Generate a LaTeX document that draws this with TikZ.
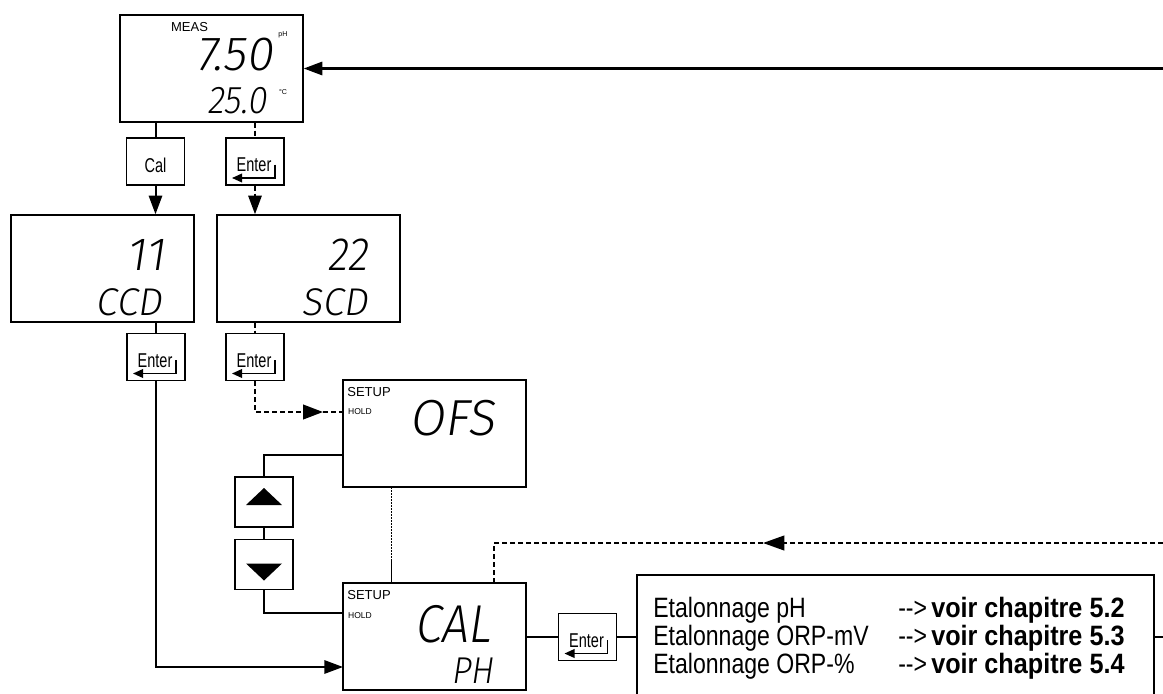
\documentclass[tikz,border=0pt]{standalone}
\usepackage{fontspec}
\setmainfont{Liberation Sans}
\newfontfamily\condfont[FakeStretch=0.725]{Liberation Sans}
\newfontfamily\listfont[FakeStretch=0.824]{Liberation Sans}
\newfontfamily\condboldfam[FakeStretch=0.90]{Liberation Sans}
\newfontfamily\segfont[FakeSlant=0.15]{Fira Sans Light}
\newfontfamily\segnarrow[FakeSlant=0.15,FakeStretch=0.9]{Fira Sans Light}
\usetikzlibrary{arrows.meta,calc}
\tikzset{
 disp/.style={draw, line width=1.1pt, minimum width=137.25pt, minimum height=80.25pt, inner sep=0},
 keybox/.style={draw, line width=0.9pt, minimum width=43.5pt, minimum height=35.25pt, inner sep=0},
 arrowkey/.style={draw, line width=0.9pt, minimum width=43.5pt, minimum height=37.5pt, inner sep=0},
 keytext/.style={inner sep=0, font=\condfont\fontsize{15pt}{17pt}\selectfont},
 seg/.style={inner sep=0, anchor=base east},
 small/.style={inner sep=0, font=\fontsize{9.75pt}{11pt}\selectfont},
 tiny/.style={inner sep=0, font=\fontsize{6.4pt}{7pt}\selectfont},
 unit/.style={inner sep=0, font=\fontsize{5.3pt}{6pt}\selectfont},
 listtext/.style={inner sep=0, anchor=base west, font=\listfont\fontsize{21pt}{23pt}\selectfont},
 listbold/.style={inner sep=0, anchor=base west, font=\condboldfam\bfseries\fontsize{21pt}{23pt}\selectfont},
 conn/.style={line width=1.5pt},
 thinconn/.style={line width=0.9pt},
 dotconn/.style={line width=1.5pt, dash pattern=on 3.75pt off 2.25pt},
 fineconn/.style={line width=0.75pt},
 tip/.style={-{Triangle[length=14pt,width=10pt]}},
 rettip/.style={-{Triangle[length=7.5pt,width=6.5pt]}},
}
\newcommand{\enterkey}[3]{%
 \node[keybox] (#1) at (#2,#3) {};
 \node[keytext] (#1t) at ($(#1.center)+(-1,3.5)$) {Enter};
 \draw[line width=1.1pt,rettip] ($(#1.center)+(20,3)$) -- ++(0,13.5) -- ++(-43,0);
}
\begin{document}
\begin{tikzpicture}[x=0.75pt,y=-0.75pt]
\useasboundingbox (0,0) rectangle (1163,693);

% MEAS display
\node[disp] (meas) at (211.5,68.5) {};
\node[small] (meast) at (189.5,27) {MEAS};
\node[seg, font=\segfont\fontsize{36pt}{36pt}\selectfont] (measv) at (273,70) {7.50};
\node[unit] (measu) at (283,35) {pH};
\node[seg, font=\segnarrow\fontsize{29pt}{29pt}\selectfont] (meast2) at (267,113) {25.0};
\node[unit] (measc) at (283,92) {°C};

% keys under MEAS
\node[keybox] (cal) at (155.5,161.5) {};
\node[keytext] (calt) at ($(cal.center)+(0,3.5)$) {Cal};
\enterkey{e1}{255}{161.5}

% displays 11 and 22
\node[disp] (b11) at (102.5,268.5) {};
\node[seg, font=\segfont\fontsize{35pt}{35pt}\selectfont] (b11a) at (165,270) {11};
\node[seg, font=\segfont\fontsize{29pt}{29pt}\selectfont] (b11b) at (162,315) {CCD};
\node[disp] (b22) at (308.5,268.5) {};
\node[seg, font=\segnarrow\fontsize{35pt}{35pt}\selectfont] (b22a) at (368,270) {22};
\node[seg, font=\segfont\fontsize{29pt}{29pt}\selectfont] (b22b) at (368,315) {SCD};

\enterkey{e2}{156}{357}
\enterkey{e3}{255}{357}

% OFS display
\node[disp] (ofs) at (434.5,433.5) {};
\node[small] (ofss) at (369,392) {SETUP};
\node[tiny] (ofsh) at (360,412) {HOLD};
\node[seg, font=\segfont\fontsize{38pt}{38pt}\selectfont] (ofsv) at (495,435) {OFS};

% up / down keys
\node[arrowkey] (up) at (264,502) {};
\fill ($(up.center)+(-18,3)$) -- ($(up.center)+(18,3)$) -- ($(up.center)+(0,-14)$) -- cycle;
\node[arrowkey] (down) at (264,564.5) {};
\fill ($(down.center)+(-18,-1)$) -- ($(down.center)+(18,-1)$) -- ($(down.center)+(0,16)$) -- cycle;

% CAL display
\node[disp] (cal2) at (434.5,636.5) {};
\node[small] (cals) at (369,595.5) {SETUP};
\node[tiny] (calh) at (360,615.5) {HOLD};
\node[seg, font=\segnarrow\fontsize{40pt}{40pt}\selectfont] (calv) at (491,642) {CAL};
\node[seg, font=\segnarrow\fontsize{28pt}{28pt}\selectfont] (calp) at (493,683) {PH};

\enterkey{e4}{587.5}{637}

% list box
\node[draw, line width=1.1pt, minimum width=387.75pt, minimum height=97.5pt, inner sep=0] (tb) at (895.5,640) {};
\node[listtext] (l1) at (653,617) {Etalonnage pH};
\node[listtext] (l2) at (653,645) {Etalonnage ORP-mV};
\node[listtext] (l3) at (653,673) {Etalonnage ORP-\%};
\node[listtext] (a1) at (898,617) {-{}->};
\node[listtext] (a2) at (898,645) {-{}->};
\node[listtext] (a3) at (898,673) {-{}->};
\node[listbold] (v1) at (931,617) {voir chapitre 5.2};
\node[listbold] (v2) at (931,645) {voir chapitre 5.3};
\node[listbold] (v3) at (931,673) {voir chapitre 5.4};

% coordinates
\coordinate (rin) at (1163,68.5);
\coordinate (c1) at (343,667);
\coordinate (ofsin) at (343,412);
\coordinate (ofsmid) at (323,412);
\coordinate (o1) at (343,455);
\coordinate (c2) at (343,613);
\coordinate (o2) at (391,487);
\coordinate (o3) at (391,560);
\coordinate (c3top) at (391,583);
\coordinate (c4) at (494,583);
\coordinate (r2) at (1163,543);
\coordinate (r2m) at (763,543);
\coordinate (rout) at (1163,637);

% connectors
\draw[line width=1.7pt,tip] (rin) -- (meas.east);
\draw[conn] (cal.north |- meas.south) -- (cal.north);
\draw[conn,tip] (cal.south) -- (cal.south |- b11.north);
\draw[dotconn] (e1.north |- meas.south) -- (e1.north);
\draw[dotconn,tip] (e1.south) -- (e1.south |- b22.north);
\draw[conn] (e2.north |- b11.south) -- (e2.north);
\draw[dotconn] (e3.north |- b22.south) -- (e3.north);
\draw[conn,tip] (e2.south) |- (c1);
\draw[dotconn,-{Triangle[length=15pt,width=11pt]}] (e3.south) |- (ofsmid);
\draw[dotconn] (ofsmid) -- (ofsin);
\draw[thinconn] (o1) -| (up.north);
\draw[thinconn] (up.south) -- (down.north);
\draw[thinconn] (down.south) |- (c2);
\draw[fineconn, dash pattern=on 1.5pt off 0.75pt] (o2) -- (o3);
\draw[fineconn] (o3) -- (c3top);
\draw[dotconn,-{Triangle[length=16pt,width=11pt]}] (r2) -- (r2m);
\draw[dotconn] (r2m) -| (c4);
\draw[conn] (cal2.east |- e4) -- (e4.west);
\draw[conn] (e4.east) -- (tb.west |- e4);
\draw[conn] (tb.east |- rout) -- (rout);
\end{tikzpicture}
\end{document}
